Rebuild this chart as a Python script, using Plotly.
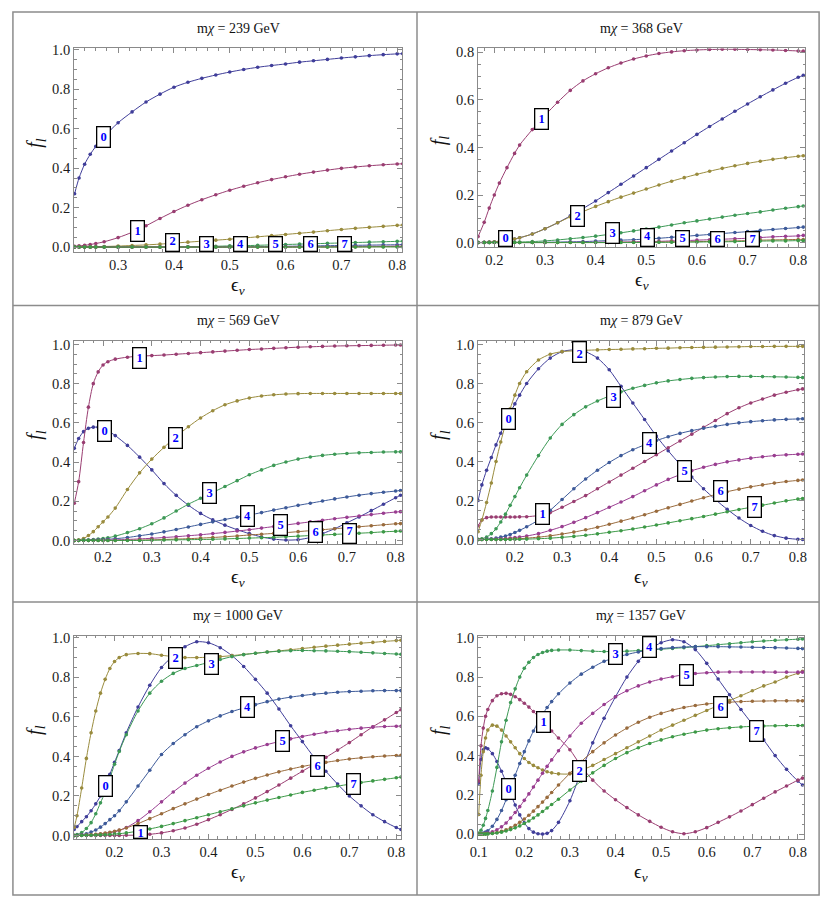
import plotly.graph_objects as go

W, H = 830, 906

# Mathematica default plot colours, curves l = 0..7
colors = ['rgb(63,61,153)', 'rgb(153,61,113)', 'rgb(153,139,61)', 'rgb(61,153,86)',
          'rgb(61,90,153)', 'rgb(153,61,144)', 'rgb(153,107,61)', 'rgb(61,153,71)']

# ---------------- m_chi = 239 GeV ----------------
x239 = [0.222, 0.23, 0.24, 0.25, 0.26, 0.275, 0.3, 0.325, 0.35, 0.375, 0.4, 0.425, 0.45, 0.475,
        0.5, 0.525, 0.55, 0.575, 0.6, 0.625, 0.65, 0.675, 0.7, 0.725, 0.75, 0.775, 0.8, 0.81]
f239_0 = [0.27, 0.35, 0.42, 0.47, 0.51, 0.56, 0.63, 0.685, 0.735, 0.775, 0.81, 0.835, 0.855, 0.872,
          0.887, 0.9, 0.911, 0.92, 0.928, 0.937, 0.944, 0.951, 0.958, 0.964, 0.97, 0.975, 0.979, 0.98]
f239_1 = [0.004, 0.006, 0.009, 0.013, 0.018, 0.027, 0.048, 0.075, 0.108, 0.145, 0.18, 0.212, 0.24, 0.265,
          0.288, 0.308, 0.326, 0.342, 0.356, 0.369, 0.38, 0.39, 0.399, 0.406, 0.412, 0.417, 0.421, 0.422]
f239_2 = [0, 0, 0.001, 0.001, 0.002, 0.003, 0.005, 0.008, 0.011, 0.015, 0.02, 0.025, 0.03, 0.035,
          0.04, 0.046, 0.052, 0.058, 0.064, 0.07, 0.076, 0.083, 0.089, 0.095, 0.1, 0.105, 0.11, 0.112]
f239_3 = [0, 0, 0, 0, 0, 0, 0, 0, 0, 0, 0.001, 0.002, 0.003, 0.004,
          0.006, 0.007, 0.009, 0.011, 0.013, 0.015, 0.017, 0.019, 0.021, 0.023, 0.025, 0.027, 0.029, 0.03]
f239_4 = [0, 0, 0, 0, 0, 0, 0, 0, 0, 0, 0, 0, 0, 0,
          0.001, 0.001, 0.002, 0.003, 0.004, 0.005, 0.006, 0.007, 0.008, 0.009, 0.01, 0.011, 0.012, 0.013]
f239_5 = [0, 0, 0, 0, 0, 0, 0, 0, 0, 0, 0, 0, 0, 0,
          0, 0, 0, 0, 0.001, 0.001, 0.002, 0.002, 0.003, 0.003, 0.004, 0.004, 0.005, 0.005]
f239_6 = [0, 0, 0, 0, 0, 0, 0, 0, 0, 0, 0, 0, 0, 0,
          0, 0, 0, 0, 0, 0, 0, 0, 0.001, 0.001, 0.001, 0.002, 0.002, 0.002]
f239_7 = [0, 0, 0, 0, 0, 0, 0, 0, 0, 0, 0, 0, 0, 0,
          0, 0, 0, 0, 0, 0, 0, 0, 0, 0, 0.001, 0.001, 0.001, 0.001]
lab239_x = [0.2735, 0.335, 0.397, 0.459, 0.52, 0.582, 0.644, 0.706]
lab239_y = [0.558, 0.083, 0.015, 0.003, 0.003, 0.003, 0.003, 0.003]

# ---------------- m_chi = 368 GeV ----------------
x368 = [0.168, 0.18, 0.19, 0.2, 0.21, 0.225, 0.24, 0.25, 0.275, 0.3, 0.325, 0.35, 0.375, 0.4, 0.425,
        0.45, 0.475, 0.5, 0.525, 0.55, 0.575, 0.6, 0.625, 0.65, 0.675, 0.7, 0.725, 0.75, 0.775, 0.8, 0.81]
f368_0 = [0.0, 0.001, 0.002, 0.003, 0.005, 0.009, 0.015, 0.02, 0.036, 0.058, 0.083, 0.112, 0.143, 0.175, 0.21,
          0.245, 0.28, 0.315, 0.35, 0.385, 0.42, 0.455, 0.488, 0.52, 0.552, 0.583, 0.613, 0.642, 0.67, 0.695, 0.703]
f368_1 = [0.025, 0.085, 0.145, 0.2, 0.25, 0.315, 0.375, 0.41, 0.475, 0.535, 0.59, 0.64, 0.68, 0.71, 0.735,
          0.755, 0.772, 0.785, 0.795, 0.802, 0.807, 0.81, 0.812, 0.813, 0.813, 0.812, 0.811, 0.81, 0.808, 0.806, 0.805]
f368_2 = [0.0, 0.001, 0.002, 0.003, 0.005, 0.009, 0.015, 0.02, 0.036, 0.058, 0.083, 0.108, 0.13, 0.152, 0.172,
          0.191, 0.208, 0.225, 0.242, 0.258, 0.273, 0.287, 0.3, 0.312, 0.323, 0.333, 0.342, 0.35, 0.357, 0.363, 0.365]
f368_3 = [0, 0, 0, 0, 0, 0.001, 0.001, 0.002, 0.004, 0.007, 0.011, 0.016, 0.021, 0.027, 0.034,
          0.041, 0.049, 0.057, 0.065, 0.074, 0.083, 0.091, 0.099, 0.107, 0.115, 0.122, 0.129, 0.137, 0.144, 0.151, 0.154]
f368_4 = [0, 0, 0, 0, 0, 0, 0, 0, 0, 0.001, 0.002, 0.003, 0.004, 0.006, 0.008,
          0.01, 0.012, 0.015, 0.018, 0.022, 0.026, 0.03, 0.034, 0.038, 0.042, 0.046, 0.051, 0.055, 0.059, 0.063, 0.065]
f368_5 = [0, 0, 0, 0, 0, 0, 0, 0, 0, 0, 0, 0.001, 0.001, 0.001, 0.002,
          0.002, 0.003, 0.004, 0.005, 0.007, 0.008, 0.01, 0.012, 0.014, 0.016, 0.018, 0.021, 0.024, 0.026, 0.028, 0.03]
f368_6 = [0, 0, 0, 0, 0, 0, 0, 0, 0, 0, 0, 0, 0, 0, 0,
          0.001, 0.001, 0.001, 0.002, 0.003, 0.003, 0.004, 0.005, 0.006, 0.007, 0.008, 0.01, 0.011, 0.012, 0.013, 0.013]
f368_7 = [0, 0, 0, 0, 0, 0, 0, 0, 0, 0, 0, 0, 0, 0, 0,
          0, 0, 0.001, 0.001, 0.001, 0.002, 0.002, 0.003, 0.003, 0.004, 0.005, 0.006, 0.007, 0.007, 0.008, 0.008]
lab368_x = [0.223, 0.294, 0.364, 0.433, 0.502, 0.572, 0.64, 0.709]
lab368_y = [0.0055, 0.52, 0.11, 0.039, 0.0155, 0.0055, 0.0015, 0.0015]

# ---------------- m_chi = 569 GeV ----------------
x569 = [0.141, 0.15, 0.16, 0.17, 0.18, 0.19, 0.2, 0.21, 0.225, 0.25, 0.275, 0.3, 0.325, 0.35, 0.375, 0.4, 0.425,
        0.45, 0.475, 0.5, 0.525, 0.55, 0.575, 0.6, 0.625, 0.65, 0.675, 0.7, 0.725, 0.75, 0.775, 0.8, 0.81]
f569_0 = [0.47, 0.52, 0.555, 0.572, 0.578, 0.578, 0.572, 0.56, 0.535, 0.485, 0.425, 0.36, 0.29, 0.23, 0.18, 0.138, 0.105,
          0.078, 0.055, 0.035, 0.018, 0.007, 0.002, 0.004, 0.015, 0.035, 0.06, 0.09, 0.12, 0.152, 0.185, 0.218, 0.231]
f569_1 = [0.19, 0.3, 0.5, 0.68, 0.8, 0.86, 0.895, 0.912, 0.925, 0.935, 0.94, 0.943, 0.946, 0.95, 0.954, 0.958, 0.962,
          0.966, 0.97, 0.974, 0.977, 0.98, 0.983, 0.986, 0.988, 0.99, 0.992, 0.993, 0.994, 0.995, 0.996, 0.997, 0.997]
f569_2 = [0.0, 0.003, 0.01, 0.025, 0.045, 0.07, 0.095, 0.12, 0.165, 0.26, 0.345, 0.415, 0.475, 0.53, 0.58, 0.625, 0.662,
          0.692, 0.712, 0.727, 0.737, 0.743, 0.747, 0.749, 0.75, 0.75, 0.75, 0.75, 0.75, 0.75, 0.75, 0.75, 0.75]
f569_3 = [0, 0.001, 0.002, 0.003, 0.005, 0.007, 0.01, 0.014, 0.022, 0.04, 0.06, 0.085, 0.115, 0.15, 0.185, 0.215, 0.245,
          0.275, 0.305, 0.335, 0.36, 0.383, 0.4, 0.415, 0.426, 0.434, 0.44, 0.444, 0.447, 0.449, 0.451, 0.452, 0.452]
f569_4 = [0, 0, 0.001, 0.001, 0.002, 0.003, 0.004, 0.006, 0.009, 0.015, 0.024, 0.033, 0.044, 0.056, 0.069, 0.082, 0.095,
          0.107, 0.119, 0.13, 0.142, 0.155, 0.167, 0.179, 0.19, 0.201, 0.212, 0.222, 0.231, 0.239, 0.246, 0.252, 0.255]
f569_5 = [0, 0, 0, 0, 0.001, 0.001, 0.001, 0.002, 0.003, 0.005, 0.008, 0.011, 0.015, 0.019, 0.024, 0.029, 0.035,
          0.041, 0.048, 0.055, 0.063, 0.071, 0.079, 0.087, 0.095, 0.103, 0.111, 0.118, 0.125, 0.132, 0.139, 0.145, 0.147]
f569_6 = [0, 0, 0, 0, 0, 0, 0, 0, 0, 0.001, 0.002, 0.003, 0.005, 0.007, 0.009, 0.012, 0.015,
          0.019, 0.023, 0.028, 0.032, 0.036, 0.04, 0.045, 0.05, 0.055, 0.06, 0.065, 0.07, 0.075, 0.08, 0.085, 0.086]
f569_7 = [0, 0, 0, 0, 0, 0, 0, 0, 0, 0, 0, 0.001, 0.002, 0.003, 0.004, 0.005, 0.006,
          0.008, 0.01, 0.012, 0.014, 0.016, 0.019, 0.022, 0.025, 0.028, 0.031, 0.034, 0.037, 0.04, 0.044, 0.047, 0.048]
lab569_x = [0.203, 0.274, 0.348, 0.419, 0.497, 0.564, 0.635, 0.706]
lab569_y = [0.558, 0.933, 0.521, 0.244, 0.126, 0.079, 0.045, 0.034]

# ---------------- m_chi = 879 GeV ----------------
x879 = [0.122, 0.13, 0.14, 0.15, 0.16, 0.17, 0.18, 0.19, 0.2, 0.21, 0.225, 0.25, 0.275, 0.3, 0.325, 0.35, 0.375,
        0.4, 0.425, 0.45, 0.475, 0.5, 0.525, 0.55, 0.575, 0.6, 0.625, 0.65, 0.675, 0.7, 0.725, 0.75, 0.775, 0.8, 0.81]
f879_0 = [0.2, 0.28, 0.355, 0.42, 0.485, 0.545, 0.6, 0.65, 0.695, 0.74, 0.8, 0.875, 0.93, 0.963, 0.972, 0.962, 0.93,
          0.87, 0.785, 0.7, 0.615, 0.53, 0.455, 0.385, 0.32, 0.26, 0.205, 0.155, 0.11, 0.072, 0.042, 0.02, 0.007, 0.001, 0.0]
f879_1 = [0.07, 0.1, 0.112, 0.115, 0.115, 0.115, 0.115, 0.115, 0.115, 0.116, 0.117, 0.123, 0.138, 0.165, 0.195, 0.225, 0.26,
          0.295, 0.33, 0.365, 0.4, 0.435, 0.47, 0.505, 0.54, 0.575, 0.61, 0.645, 0.675, 0.7, 0.72, 0.74, 0.755, 0.768, 0.772]
f879_2 = [0.04, 0.1, 0.19, 0.29, 0.4, 0.5, 0.59, 0.67, 0.74, 0.8, 0.86, 0.92, 0.95, 0.963, 0.967, 0.97, 0.972,
          0.974, 0.975, 0.977, 0.978, 0.98, 0.981, 0.983, 0.984, 0.985, 0.986, 0.987, 0.988, 0.989, 0.989, 0.99, 0.99, 0.99, 0.99]
f879_3 = [0.0, 0.004, 0.012, 0.03, 0.055, 0.09, 0.13, 0.175, 0.22, 0.265, 0.33, 0.43, 0.52, 0.59, 0.64, 0.68, 0.71,
          0.735, 0.757, 0.775, 0.79, 0.803, 0.813, 0.82, 0.826, 0.83, 0.833, 0.835, 0.836, 0.836, 0.835, 0.834, 0.833, 0.831, 0.83]
f879_4 = [0, 0, 0.002, 0.004, 0.007, 0.012, 0.018, 0.026, 0.036, 0.047, 0.065, 0.1, 0.15, 0.205, 0.26, 0.31, 0.355,
          0.395, 0.43, 0.46, 0.485, 0.507, 0.527, 0.544, 0.558, 0.57, 0.58, 0.59, 0.598, 0.604, 0.609, 0.613, 0.616, 0.618, 0.619]
f879_5 = [0, 0, 0.001, 0.001, 0.002, 0.003, 0.005, 0.007, 0.01, 0.013, 0.018, 0.03, 0.047, 0.066, 0.088, 0.112, 0.138,
          0.165, 0.192, 0.22, 0.25, 0.28, 0.308, 0.332, 0.353, 0.37, 0.385, 0.398, 0.408, 0.417, 0.424, 0.43, 0.434, 0.437, 0.438]
f879_6 = [0, 0, 0, 0, 0, 0, 0.001, 0.002, 0.003, 0.004, 0.007, 0.012, 0.019, 0.028, 0.038, 0.05, 0.063,
          0.078, 0.094, 0.11, 0.127, 0.145, 0.163, 0.18, 0.197, 0.214, 0.23, 0.245, 0.258, 0.27, 0.28, 0.289, 0.297, 0.303, 0.305]
f879_7 = [0, 0, 0, 0, 0, 0, 0, 0, 0.001, 0.001, 0.002, 0.004, 0.007, 0.011, 0.016, 0.022, 0.029,
          0.037, 0.045, 0.054, 0.064, 0.074, 0.085, 0.096, 0.107, 0.118, 0.13, 0.142, 0.154, 0.165, 0.176, 0.187, 0.198, 0.207, 0.21]
lab879_x = [0.186, 0.259, 0.336, 0.41, 0.485, 0.559, 0.636, 0.709]
lab879_y = [0.62, 0.13, 0.966, 0.73, 0.493, 0.35, 0.248, 0.169]

# ---------------- m_chi = 1000 GeV ----------------
x1000 = [0.114, 0.12, 0.13, 0.14, 0.15, 0.16, 0.17, 0.18, 0.19, 0.2, 0.21, 0.225, 0.25, 0.275, 0.3, 0.325, 0.35, 0.375,
         0.4, 0.425, 0.45, 0.475, 0.5, 0.525, 0.55, 0.575, 0.6, 0.625, 0.65, 0.675, 0.7, 0.725, 0.75, 0.775, 0.8, 0.81]
f1000_0 = [0.03, 0.045, 0.07, 0.095, 0.125, 0.16, 0.2, 0.25, 0.31, 0.37, 0.43, 0.52, 0.65, 0.76, 0.85, 0.91, 0.955, 0.98,
           0.975, 0.95, 0.91, 0.855, 0.79, 0.72, 0.64, 0.555, 0.475, 0.395, 0.325, 0.26, 0.2, 0.15, 0.105, 0.07, 0.04, 0.03]
f1000_1 = [0, 0, 0, 0, 0, 0, 0, 0, 0, 0, 0, 0.001, 0.002, 0.006, 0.013, 0.024, 0.038, 0.057,
           0.08, 0.105, 0.132, 0.16, 0.19, 0.222, 0.255, 0.29, 0.325, 0.36, 0.395, 0.432, 0.47, 0.51, 0.55, 0.585, 0.622, 0.636]
f1000_2 = [0.04, 0.1, 0.24, 0.39, 0.52, 0.63, 0.72, 0.79, 0.845, 0.88, 0.9, 0.915, 0.921, 0.92, 0.912, 0.905, 0.9, 0.9,
           0.902, 0.905, 0.91, 0.916, 0.922, 0.928, 0.934, 0.94, 0.946, 0.952, 0.958, 0.963, 0.968, 0.973, 0.977, 0.982, 0.986, 0.988]
f1000_3 = [0.0, 0.005, 0.015, 0.035, 0.065, 0.11, 0.165, 0.22, 0.29, 0.36, 0.425, 0.51, 0.63, 0.72, 0.78, 0.82, 0.845, 0.86,
           0.875, 0.89, 0.905, 0.915, 0.922, 0.928, 0.932, 0.935, 0.936, 0.935, 0.934, 0.932, 0.93, 0.927, 0.924, 0.921, 0.918, 0.917]
f1000_4 = [0, 0.001, 0.004, 0.009, 0.017, 0.028, 0.042, 0.06, 0.08, 0.1, 0.125, 0.17, 0.25, 0.33, 0.41, 0.465, 0.51, 0.55,
           0.58, 0.605, 0.627, 0.645, 0.662, 0.677, 0.69, 0.7, 0.708, 0.715, 0.72, 0.725, 0.728, 0.73, 0.732, 0.733, 0.733, 0.733]
f1000_5 = [0, 0, 0.001, 0.002, 0.003, 0.005, 0.007, 0.01, 0.014, 0.019, 0.026, 0.04, 0.075, 0.12, 0.17, 0.22, 0.265, 0.305,
           0.34, 0.372, 0.4, 0.423, 0.443, 0.46, 0.475, 0.489, 0.501, 0.512, 0.522, 0.53, 0.537, 0.543, 0.548, 0.551, 0.553, 0.553]
f1000_6 = [0, 0, 0.001, 0.002, 0.004, 0.006, 0.009, 0.012, 0.016, 0.021, 0.027, 0.038, 0.06, 0.085, 0.11, 0.136, 0.16, 0.184,
           0.207, 0.229, 0.25, 0.27, 0.289, 0.306, 0.322, 0.336, 0.349, 0.36, 0.37, 0.379, 0.387, 0.393, 0.398, 0.402, 0.405, 0.406]
f1000_7 = [0, 0, 0, 0.001, 0.001, 0.002, 0.003, 0.004, 0.005, 0.007, 0.009, 0.013, 0.022, 0.033, 0.046, 0.06, 0.075, 0.09,
           0.105, 0.12, 0.135, 0.15, 0.165, 0.179, 0.192, 0.205, 0.218, 0.229, 0.24, 0.25, 0.259, 0.268, 0.276, 0.284, 0.292, 0.296]
lab1000_x = [0.18, 0.256, 0.33, 0.406, 0.483, 0.558, 0.632, 0.709]
lab1000_y = [0.25, -0.002, 0.9, 0.87, 0.65, 0.478, 0.353, 0.262]

# ---------------- m_chi = 1357 GeV ----------------
x1357 = [0.1, 0.105, 0.11, 0.115, 0.12, 0.13, 0.14, 0.15, 0.16, 0.17, 0.18, 0.19, 0.2, 0.21, 0.22, 0.23, 0.24, 0.25, 0.26,
         0.275, 0.3, 0.325, 0.35, 0.375, 0.4, 0.425, 0.45, 0.475, 0.5, 0.525, 0.55, 0.575, 0.6, 0.625, 0.65, 0.675, 0.7,
         0.725, 0.75, 0.775, 0.8, 0.81]
f1357_0 = [0.26, 0.38, 0.43, 0.44, 0.435, 0.41, 0.37, 0.32, 0.265, 0.205, 0.148, 0.098, 0.058, 0.028, 0.01, 0.002, 0.0, 0.004, 0.018,
           0.06, 0.17, 0.32, 0.465, 0.59, 0.7, 0.8, 0.88, 0.94, 0.975, 0.99, 0.98, 0.94, 0.87, 0.79, 0.71, 0.635, 0.56,
           0.48, 0.4, 0.33, 0.27, 0.25]
f1357_1 = [0.27, 0.45, 0.54, 0.6, 0.635, 0.68, 0.705, 0.715, 0.717, 0.712, 0.7, 0.685, 0.667, 0.647, 0.625, 0.6, 0.575, 0.55, 0.525,
           0.49, 0.43, 0.345, 0.275, 0.22, 0.175, 0.135, 0.098, 0.065, 0.035, 0.012, 0.002, 0.012, 0.033, 0.06, 0.088, 0.118, 0.15,
           0.183, 0.215, 0.245, 0.275, 0.285]
f1357_2 = [0.1, 0.3, 0.42, 0.49, 0.53, 0.555, 0.55, 0.53, 0.5, 0.47, 0.44, 0.41, 0.385, 0.365, 0.35, 0.338, 0.327, 0.318, 0.312,
           0.307, 0.307, 0.325, 0.35, 0.38, 0.41, 0.44, 0.47, 0.5, 0.53, 0.555, 0.58, 0.605, 0.63, 0.655, 0.68, 0.705, 0.73,
           0.755, 0.775, 0.8, 0.82, 0.83]
f1357_3 = [0.005, 0.02, 0.045, 0.08, 0.12, 0.22, 0.34, 0.47, 0.58, 0.67, 0.74, 0.8, 0.845, 0.875, 0.9, 0.915, 0.925, 0.932, 0.936,
           0.938, 0.938, 0.935, 0.932, 0.93, 0.93, 0.932, 0.935, 0.938, 0.942, 0.946, 0.95, 0.955, 0.96, 0.965, 0.97, 0.975, 0.98,
           0.984, 0.987, 0.99, 0.993, 0.994]
f1357_4 = [0.0, 0.002, 0.005, 0.01, 0.017, 0.04, 0.075, 0.12, 0.175, 0.235, 0.3, 0.36, 0.42, 0.475, 0.525, 0.57, 0.61, 0.645, 0.675,
           0.715, 0.77, 0.815, 0.85, 0.88, 0.9, 0.915, 0.928, 0.938, 0.945, 0.95, 0.953, 0.955, 0.955, 0.955, 0.954, 0.953, 0.952,
           0.951, 0.95, 0.948, 0.946, 0.945]
f1357_5 = [0, 0.001, 0.002, 0.004, 0.006, 0.012, 0.022, 0.037, 0.057, 0.082, 0.11, 0.14, 0.172, 0.205, 0.24, 0.275, 0.31, 0.345, 0.378,
           0.425, 0.5, 0.565, 0.615, 0.66, 0.7, 0.73, 0.755, 0.775, 0.79, 0.802, 0.812, 0.818, 0.822, 0.825, 0.826, 0.826, 0.826,
           0.826, 0.825, 0.825, 0.825, 0.825]
f1357_6 = [0, 0, 0, 0.001, 0.002, 0.004, 0.008, 0.014, 0.022, 0.032, 0.045, 0.06, 0.077, 0.096, 0.117, 0.14, 0.163, 0.187, 0.212,
           0.25, 0.31, 0.37, 0.42, 0.465, 0.505, 0.54, 0.57, 0.595, 0.615, 0.632, 0.645, 0.655, 0.663, 0.668, 0.672, 0.675, 0.677,
           0.678, 0.679, 0.679, 0.679, 0.679]
f1357_7 = [0, 0, 0, 0, 0.001, 0.003, 0.006, 0.01, 0.016, 0.023, 0.032, 0.042, 0.054, 0.067, 0.082, 0.098, 0.115, 0.133, 0.151,
           0.178, 0.225, 0.27, 0.312, 0.35, 0.385, 0.415, 0.44, 0.462, 0.48, 0.496, 0.509, 0.52, 0.53, 0.537, 0.542, 0.546, 0.549,
           0.551, 0.552, 0.553, 0.553, 0.553]
lab1357_x = [0.165, 0.243, 0.32, 0.4, 0.475, 0.555, 0.63, 0.71]
lab1357_y = [0.232, 0.57, 0.324, 0.92, 0.953, 0.81, 0.65, 0.525]

panels = [
    (239, x239, [f239_0, f239_1, f239_2, f239_3, f239_4, f239_5, f239_6, f239_7], lab239_x, lab239_y),
    (368, x368, [f368_0, f368_1, f368_2, f368_3, f368_4, f368_5, f368_6, f368_7], lab368_x, lab368_y),
    (569, x569, [f569_0, f569_1, f569_2, f569_3, f569_4, f569_5, f569_6, f569_7], lab569_x, lab569_y),
    (879, x879, [f879_0, f879_1, f879_2, f879_3, f879_4, f879_5, f879_6, f879_7], lab879_x, lab879_y),
    (1000, x1000, [f1000_0, f1000_1, f1000_2, f1000_3, f1000_4, f1000_5, f1000_6, f1000_7], lab1000_x, lab1000_y),
    (1357, x1357, [f1357_0, f1357_1, f1357_2, f1357_3, f1357_4, f1357_5, f1357_6, f1357_7], lab1357_x, lab1357_y),
]

# frame of each plot in pixels (left, right, top, bottom) and axis ranges
frames = [(67, 400, 42, 248), (477, 809, 42, 243), (67, 400, 338, 544),
          (477, 808, 338, 544), (67, 399, 637, 843), (477, 808, 637, 843)]
xranges = [(0.221, 0.809), (0.168, 0.814), (0.1405, 0.8135), (0.122, 0.8136), (0.1137, 0.8105), (0.0987, 0.814)]
yranges = [(-0.0235, 1.0065), (-0.0178, 0.8165), (-0.017, 1.02), (-0.022, 1.02), (-0.017, 1.0115), (-0.024, 1.0115)]
yticks = [[0, 0.2, 0.4, 0.6, 0.8, 1.0], [0, 0.2, 0.4, 0.6, 0.8]] + [[0, 0.2, 0.4, 0.6, 0.8, 1.0]] * 4


def px(x):
    return x / W


def py(y):
    return 1 - y / H


SERIF = 'Liberation Serif'
FRAME = '#8a8a8a'

fig = go.Figure()
annotations = []
layout = {}

for i, (m, xs, fs, lx, ly) in enumerate(panels):
    n = i + 1
    xa, ya = ('x' if n == 1 else 'x%d' % n), ('y' if n == 1 else 'y%d' % n)
    left, right, top, bottom = frames[i]
    for l, f in enumerate(fs):
        fig.add_trace(go.Scatter(
            x=xs, y=f, xaxis=xa, yaxis=ya, mode='lines+markers',
            line=dict(color=colors[l], width=1, shape='spline', smoothing=0.8),
            marker=dict(color=colors[l], size=3.6),
            showlegend=False, hoverinfo='skip'))

    common = dict(showline=True, linecolor=FRAME, linewidth=1, mirror='allticks',
                  ticks='inside', ticklen=5, tickcolor=FRAME, showgrid=False, zeroline=False,
                  tickfont=dict(family=SERIF, size=14.5, color='#1a1a1a'), tickformat='.1f')
    layout['xaxis' + ('' if n == 1 else str(n))] = dict(
        common, domain=[px(left), px(right)], range=list(xranges[i]), anchor=ya,
        tickvals=[0.1, 0.2, 0.3, 0.4, 0.5, 0.6, 0.7, 0.8],
        minor=dict(ticks='inside', ticklen=2.5, tickcolor=FRAME, dtick=0.02, tick0=0))
    layout['yaxis' + ('' if n == 1 else str(n))] = dict(
        common, domain=[py(bottom), py(top)], range=list(yranges[i]), anchor=xa,
        tickvals=yticks[i],
        minor=dict(ticks='inside', ticklen=2.5, tickcolor=FRAME, dtick=0.05, tick0=0))

    cx = (left + right) / 2
    # panel title and axis labels
    annotations.append(dict(xref='paper', yref='paper', x=px(cx), y=py(top - 20), showarrow=False,
                            xanchor='center', yanchor='middle',
                            text='m<i>χ</i> = %d GeV' % m, font=dict(family=SERIF, size=14, color='#111')))
    annotations.append(dict(xref='paper', yref='paper', x=px(cx), y=py(bottom + 35), showarrow=False,
                            xanchor='center', yanchor='middle',
                            text='ϵ<sub><i>ν</i></sub>', font=dict(family=SERIF, size=19, color='#111')))
    annotations.append(dict(xref='paper', yref='paper', x=px(left - 39), y=py((top + bottom) / 2 - 7),
                            showarrow=False, textangle=-90, xanchor='center', yanchor='middle',
                            text='<i>f<sub>l</sub></i>', font=dict(family=SERIF, size=20, color='#111')))

    # numbered boxes, clipped at the frame like in the original
    ymin, ymax = yranges[i]
    ppu = (bottom - top) / (ymax - ymin)
    half = 11
    for l in range(8):
        c = ly[l]
        t, b = c + half / ppu, c - half / ppu
        ann = dict(xref=xa, yref=ya, x=lx[l], showarrow=False, text='<b>%d</b>' % l,
                   font=dict(family=SERIF, size=12.5, color='#0000ff'), xanchor='center',
                   bgcolor='white', bordercolor='black', borderwidth=1.3, borderpad=0, width=12.4)
        if b < ymin:
            ann.update(y=t, yanchor='top', height=max((t - ymin) * ppu - 2.6, 4), valign='top')
        elif t > ymax:
            ann.update(y=ymax, yanchor='top', height=max((ymax - b) * ppu - 2.6, 4), valign='bottom')
        else:
            ann.update(y=c, yanchor='middle', height=22 - 2.6)
        annotations.append(ann)

# cell borders
shapes = []
line = dict(color='#8c8c8c', width=1.5)
shapes.append(dict(type='rect', xref='paper', yref='paper', x0=px(5), x1=px(823), y0=py(900), y1=py(5), line=line))
shapes.append(dict(type='line', xref='paper', yref='paper', x0=px(415), x1=px(415), y0=py(900), y1=py(5), line=line))
shapes.append(dict(type='line', xref='paper', yref='paper', x0=px(5), x1=px(823), y0=py(302.5), y1=py(302.5), line=line))
shapes.append(dict(type='line', xref='paper', yref='paper', x0=px(5), x1=px(823), y0=py(603), y1=py(603), line=line))

fig.update_layout(
    width=W, height=H, margin=dict(l=0, r=0, t=0, b=0),
    paper_bgcolor='white', plot_bgcolor='white',
    font=dict(family=SERIF), annotations=annotations, shapes=shapes, **layout)

# the page must not add its own margin around the fixed-size figure
fig.write_html('out.html', config={'displayModeBar': False},
               post_script="document.body.style.margin='0px';document.body.style.overflow='hidden';")
